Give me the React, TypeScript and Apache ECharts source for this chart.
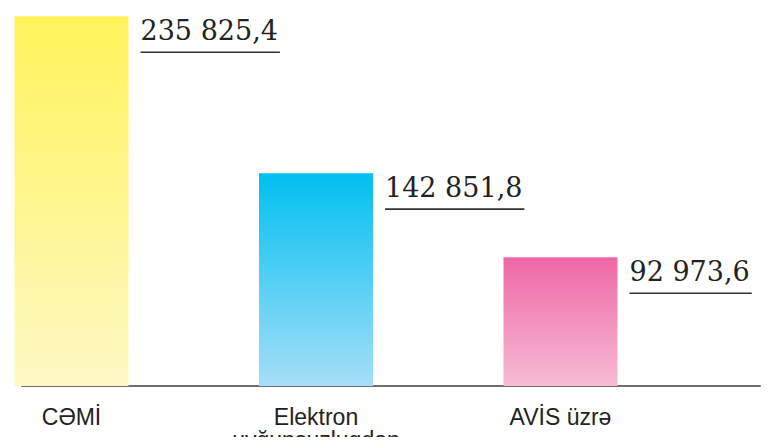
import React, { useEffect, useRef } from "react";
import * as echarts from "echarts";

const categories = ["CƏMİ", "Elektron\nuyğunsuzluqdan", "AVİS üzrə"];
const values = [235825.4, 142851.8, 92973.6];
const topColors = ["#FFF35A", "#00C0F0", "#EF67A6"];
const bottomColors = ["#FEF8C4", "#A6DEF8", "#F6BCD4"];

const BAR_W = 114;
const VALUE_FONT = '27px "DejaVu Serif"';

function fmt(v: number): string {
  const [i, d] = v.toFixed(1).split(".");
  return i.replace(/\B(?=(\d{3})+(?!\d))/g, " ") + "," + d;
}

let measureCtx: CanvasRenderingContext2D | null = null;
function textWidth(s: string): number {
  if (!measureCtx) measureCtx = document.createElement("canvas").getContext("2d");
  if (!measureCtx) return s.length * 15;
  measureCtx.font = VALUE_FONT;
  return measureCtx.measureText(s).width;
}

export default function App() {
  const ref = useRef<HTMLDivElement>(null);
  useEffect(() => {
    if (!ref.current) return;
    const chart = echarts.init(ref.current, null, { renderer: "svg" });
    chart.setOption({
      animation: false,
      backgroundColor: "#ffffff",
      grid: {
        left: 22,
        right: 16,
        top: 16,
        bottom: 59,
        containLabel: false,
        outerBoundsMode: "none",
      },
      xAxis: {
        type: "value",
        min: -0.2025,
        max: 2.816,
        splitLine: { show: false },
        axisLine: { show: true, onZero: false, lineStyle: { color: "#6f6f6f", width: 2 } },
        axisTick: { show: false },
        axisLabel: {
          customValues: categories.map((_, i) => i),
          formatter: (v: number) => categories[Math.round(v)] ?? "",
          margin: 19,
          fontFamily: '"Liberation Sans", Arial, sans-serif',
          fontSize: 23,
          lineHeight: 23,
          color: "#222",
          verticalAlign: "top",
          showMinLabel: true,
          showMaxLabel: true,
          hideOverlap: false,
        },
      },
      yAxis: {
        type: "value",
        min: 16700,
        max: 236000,
        show: false,
        splitLine: { show: false },
      },
      series: [
        {
          type: "bar",
          barWidth: BAR_W,
          clip: true,
          data: values.map((v, i) => ({
            value: [i, v],
            itemStyle: {
              color: new echarts.graphic.LinearGradient(0, 0, 0, 1, [
                { offset: 0, color: topColors[i] },
                { offset: 1, color: bottomColors[i] },
              ]),
            },
          })),
        },
        {
          type: "custom",
          clip: false,
          z: 5,
          data: values.map((v, i) => [i, v]),
          renderItem: (params: any, api: any) => {
            const pt = api.coord([api.value(0), api.value(1)]);
            const x = pt[0] + BAR_W / 2 + 12;
            const top = pt[1];
            const s = fmt(api.value(1));
            const w = textWidth(s) + 2;
            return {
              type: "group",
              children: [
                {
                  type: "text",
                  x,
                  y: top + 14.5,
                  style: {
                    text: s,
                    font: VALUE_FONT,
                    fill: "#222",
                    textAlign: "left",
                    textVerticalAlign: "middle",
                    align: "left",
                    verticalAlign: "middle",
                  },
                },
                {
                  type: "line",
                  shape: { x1: x, y1: top + 36, x2: x + w, y2: top + 36 },
                  style: { stroke: "#333", lineWidth: 1.6 },
                },
              ],
            };
          },
        },
      ],
    });
    return () => chart.dispose();
  }, []);
  return <div ref={ref} style={{ width: 776, height: 445, margin: -8 }} />;
}
